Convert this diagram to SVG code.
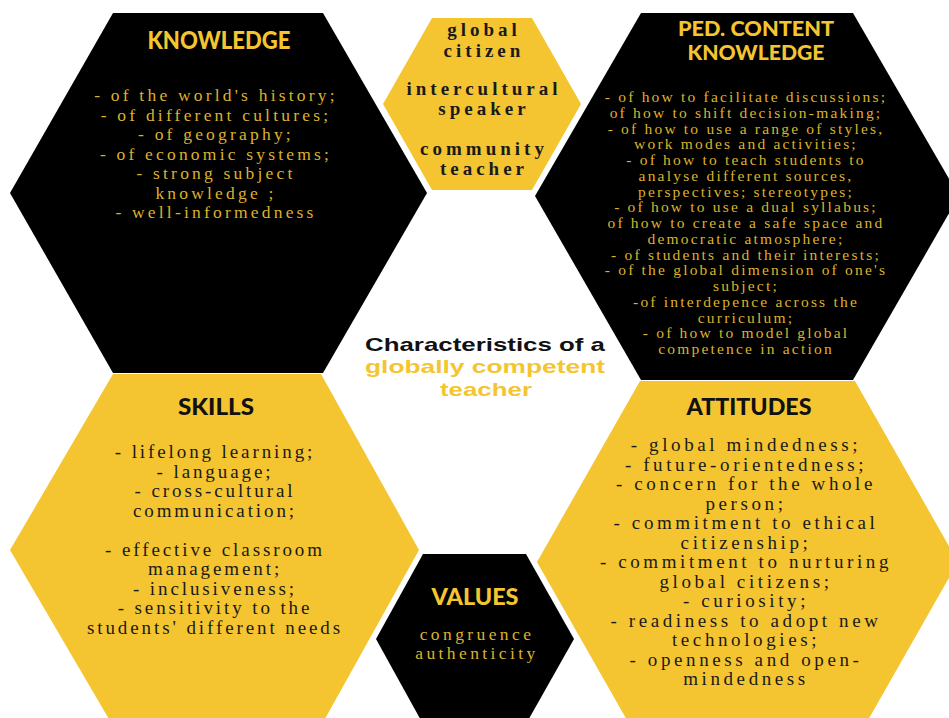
<svg xmlns="http://www.w3.org/2000/svg" width="949" height="718" viewBox="0 0 949 718">
  <style>
    .yellow { fill: #F4C531; }
    .black { fill: #000000; }
    .head { font-family: "Lato", "Open Sans", sans-serif; font-weight: 900; text-anchor: middle; }
    .body { font-family: "Liberation Serif", "DejaVu Serif", serif; text-anchor: middle; }
    .on-black { fill: #DDB22D; }
    .on-yellow { fill: #1A1A1A; }
    .k-body { font-size: 17.5px; letter-spacing: 3.2px; }
    .s-body { font-size: 19px; letter-spacing: 2.9px; }
    .a-body { font-size: 19px; letter-spacing: 3.6px; }
    .p-body { font-size: 15.5px; letter-spacing: 2.2px; }
    .role { font-family: "Liberation Serif", "DejaVu Serif", serif; font-weight: bold; font-size: 19px; letter-spacing: 4px; text-anchor: middle; fill: #1A1A1A; }
    .title { font-family: "Liberation Sans", "Noto Sans", sans-serif; font-weight: bold; text-anchor: middle; }
  </style>

  <rect width="949" height="718" fill="#ffffff"/>

  <!-- Knowledge -->
  <g id="knowledge">
    <polygon class="black" points="10,193 113,13 323,13 427,193 323,373 113,373"/>
    <text class="head" x="219" y="49" font-size="25" fill="#F4C531" textLength="143" lengthAdjust="spacingAndGlyphs">KNOWLEDGE</text>
    <g class="body k-body on-black">
      <text x="216" y="101">- of the world's history;</text>
      <text x="216" y="120.5">- of different cultures;</text>
      <text x="216" y="140">- of geography;</text>
      <text x="216" y="159.5">- of economic systems;</text>
      <text x="216" y="179">- strong subject</text>
      <text x="216" y="198.5">knowledge ;</text>
      <text x="216" y="218">- well-informedness</text>
    </g>
  </g>

  <!-- Roles of the teacher -->
  <g id="roles">
    <polygon class="yellow" points="383,104 432,18 532,18 581,104 532,190 432,190"/>
    <text class="role" x="484" y="36">global</text>
    <text class="role" x="484" y="57">citizen</text>
    <text class="role" x="484" y="95">intercultural</text>
    <text class="role" x="484" y="115">speaker</text>
    <text class="role" x="484" y="155">community</text>
    <text class="role" x="484" y="175">teacher</text>
  </g>

  <!-- Pedagogical content knowledge -->
  <g id="ped-content">
    <polygon class="black" points="535,196 641,13 853,13 959,196 853,380 641,380"/>
    <text class="head" x="756" y="36" font-size="20" fill="#F4C531" textLength="156" lengthAdjust="spacingAndGlyphs">PED. CONTENT</text>
    <text class="head" x="756" y="60" font-size="20" fill="#F4C531" textLength="137" lengthAdjust="spacingAndGlyphs">KNOWLEDGE</text>
    <g class="body p-body on-black">
      <text x="746" y="102">- of how to facilitate discussions;</text>
      <text x="746" y="117.75">of how to shift decision-making;</text>
      <text x="746" y="133.5">- of how to use a range of styles,</text>
      <text x="746" y="149.25">work modes and activities;</text>
      <text x="746" y="165">- of how to teach students to</text>
      <text x="746" y="180.75">analyse different sources,</text>
      <text x="746" y="196.5">perspectives; stereotypes;</text>
      <text x="746" y="212.25">- of how to use a dual syllabus;</text>
      <text x="746" y="228">of how to create a safe space and</text>
      <text x="746" y="243.75">democratic atmosphere;</text>
      <text x="746" y="259.5">- of students and their interests;</text>
      <text x="746" y="275.25">- of the global dimension of one's</text>
      <text x="746" y="291">subject;</text>
      <text x="746" y="306.75">-of interdepence across the</text>
      <text x="746" y="322.5">curriculum;</text>
      <text x="746" y="338.25">- of how to model global</text>
      <text x="746" y="354">competence in action</text>
    </g>
  </g>

  <!-- Central title -->
  <g id="title">
    <text class="title" x="485" y="351" font-size="19" fill="#111111" textLength="240" lengthAdjust="spacingAndGlyphs">Characteristics of a</text>
    <text class="title" x="485" y="373" font-size="19" fill="#F4C531" textLength="240" lengthAdjust="spacingAndGlyphs">globally competent</text>
    <text class="title" x="486" y="396" font-size="19" fill="#F4C531" textLength="92" lengthAdjust="spacingAndGlyphs">teacher</text>
  </g>

  <!-- Skills -->
  <g id="skills">
    <polygon class="yellow" points="10,550 113,374 321,374 419,550 321,726 113,726"/>
    <text class="head" x="216" y="415" font-size="23" fill="#111111" textLength="76" lengthAdjust="spacingAndGlyphs">SKILLS</text>
    <g class="body s-body on-yellow">
      <text x="215" y="458">- lifelong learning;</text>
      <text x="215" y="477.5">- language;</text>
      <text x="215" y="497">- cross-cultural</text>
      <text x="215" y="516.5">communication;</text>
      <text x="215" y="555.5">- effective classroom</text>
      <text x="215" y="575">management;</text>
      <text x="215" y="594.5">- inclusiveness;</text>
      <text x="215" y="614">- sensitivity to the</text>
      <text x="215" y="633.5">students' different needs</text>
    </g>
  </g>

  <!-- Values -->
  <g id="values">
    <polygon class="black" points="376,639 423,554 526,554 574,639 526,724 423,724"/>
    <text class="head" x="475" y="605" font-size="22" fill="#F4C531" textLength="87" lengthAdjust="spacingAndGlyphs">VALUES</text>
    <g class="body on-black" font-size="17.5" letter-spacing="3.4">
      <text x="477" y="640">congruence</text>
      <text x="477" y="659">authenticity</text>
    </g>
  </g>

  <!-- Attitudes -->
  <g id="attitudes">
    <polygon class="yellow" points="537,562 640,381 855,381 958,562 855,743 640,743"/>
    <text class="head" x="749" y="415" font-size="23" fill="#111111" textLength="125" lengthAdjust="spacingAndGlyphs">ATTITUDES</text>
    <g class="body a-body on-yellow">
      <text x="746" y="451">- global mindedness;</text>
      <text x="746" y="470.5">- future-orientedness;</text>
      <text x="746" y="490">- concern for the whole</text>
      <text x="746" y="509.5">person;</text>
      <text x="746" y="529">- commitment to ethical</text>
      <text x="746" y="548.5">citizenship;</text>
      <text x="746" y="568">- commitment to nurturing</text>
      <text x="746" y="587.5">global citizens;</text>
      <text x="746" y="607">- curiosity;</text>
      <text x="746" y="626.5">- readiness to adopt new</text>
      <text x="746" y="646">technologies;</text>
      <text x="746" y="665.5">- openness and open-</text>
      <text x="746" y="685">mindedness</text>
    </g>
  </g>

  <!-- No connectors in this layout -->
  <g id="connectors"/>
</svg>
